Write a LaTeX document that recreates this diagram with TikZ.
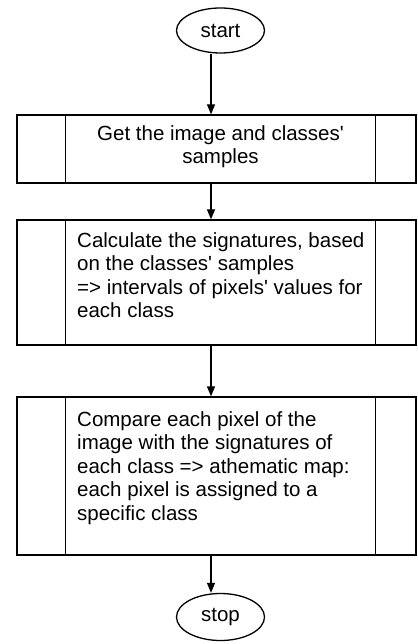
\documentclass[tikz,border=0pt]{standalone}
\usepackage{fontspec}
\setmainfont{Liberation Sans}
\usetikzlibrary{shapes.geometric,arrows.meta}
\begin{document}
\begin{tikzpicture}[x=1pt,y=-1pt,
  every node/.style={font=\fontsize{20.5}{23.5}\selectfont},
  term/.style={draw,ellipse,line width=1.3pt,minimum width=88pt,minimum height=45pt,inner sep=0pt},
  procbox/.style={draw,rectangle,line width=1.3pt,minimum width=399pt,inner sep=0pt},
  txt/.style={inner sep=0pt,align=left,anchor=north west},
  arr/.style={line width=1.3pt,-{Triangle[length=10pt,width=8pt]}},
  side/.style={line width=1.3pt}]
\useasboundingbox (0,0) rectangle (417,644);
\coordinate (ax) at (211,0);
\node[term] (start) at (220.5,30.5) {start};
\node[procbox,minimum height=68pt] (b1) at (216.5,149) {};
\node[procbox,minimum height=125pt] (b2) at (216.5,282.5) {};
\node[procbox,minimum height=158pt] (b3) at (216.5,476) {};
\node[term,minimum height=47pt] (stop) at (220.5,617) {stop};
\foreach \b in {b1,b2,b3}{
  \draw[side] ([xshift=49pt]\b.north west) -- ([xshift=49pt]\b.south west);
  \draw[side] ([xshift=-41pt]\b.north east) -- ([xshift=-41pt]\b.south east);
}
\node[inner sep=0pt,align=center,anchor=north] (t1) at (220.5,125) {Get the image and classes\textquotesingle\\samples};
\node[txt] (t2) at (77,232) {Calculate the signatures, based\\on the classes\textquotesingle{} samples\\=> intervals of pixels\textquotesingle{} values for\\each class};
\node[txt] (t3) at (77,411) {Compare each pixel of the\\image with the signatures of\\each class => athematic map:\\each pixel is assigned to a\\specific class};
\draw[arr] (start.south -| ax) -- (b1.north -| ax);
\draw[arr] (b1.south -| ax) -- (b2.north -| ax);
\draw[arr] (b2.south -| ax) -- (b3.north -| ax);
\draw[arr] (b3.south -| ax) -- (stop.north -| ax);
\end{tikzpicture}
\end{document}
